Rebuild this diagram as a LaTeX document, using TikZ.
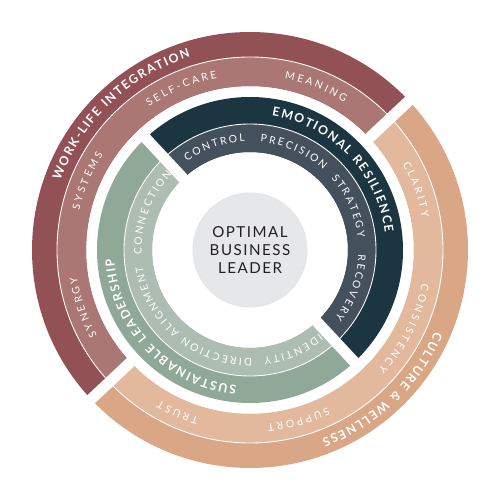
\documentclass[tikz,border=0pt]{standalone}
\usepackage{fontspec}
\setmainfont{Lato}
\usetikzlibrary{decorations.text}

\definecolor{wlDark}{HTML}{925155}
\definecolor{wlLight}{HTML}{AA7774}
\definecolor{cwDark}{HTML}{D9A686}
\definecolor{cwLight}{HTML}{E3B99E}
\definecolor{erDark}{HTML}{1B3541}
\definecolor{erLight}{HTML}{44505C}
\definecolor{slDark}{HTML}{8FA898}
\definecolor{slLight}{HTML}{ADBDB2}
\definecolor{hubGray}{HTML}{E6E7E8}
\definecolor{hubText}{HTML}{231F20}

\newcommand{\headfont}{\fontsize{7}{8}\selectfont\bfseries}
\newcommand{\itemfont}{\fontsize{5.9}{7}\selectfont}

% ring piece: colour, from angle, to angle, inner r, outer r
\newcommand{\ringpart}[5]{%
  \fill[#1] (#2:#5) arc[start angle=#2, end angle=#3, radius=#5]
    -- (#3:#4) arc[start angle=#3, end angle=#2, radius=#4] -- cycle;}

% curved label: radius, centre angle, font, letter gap, text
\newcommand{\ringtext}[5]{%
  \path[decorate, decoration={text effects along path, text={#5}, text align=center,
      text effects/.cd, text along path,
      characters={text=white, font=#3},
      character widths={inner xsep=#4, font=#3}}]
    (#2+70:#1) arc[start angle=#2+70, end angle=#2-70, radius=#1];}

\begin{document}
\begin{tikzpicture}
    \tikzset{
        gap/.style={white, line width=0.22cm},
        seam/.style={white, line width=0.5pt},
        hub/.style={circle, minimum size=2.28cm, fill=hubGray, draw=black!10, line width=0.6pt},
    }
    \useasboundingbox (-5,-5) rectangle (5,5);

    % Anillo exterior
    \ringpart{wlDark}{43.2}{223.2}{3.28}{4.36}
    \ringpart{wlLight}{43.2}{223.2}{3.28}{3.86}
    \ringpart{cwDark}{223.2}{403.2}{3.28}{4.36}
    \ringpart{cwLight}{223.2}{403.2}{3.28}{3.86}

    % Anillo interior
    \ringpart{erDark}{-47}{133}{1.96}{3.06}
    \ringpart{erLight}{-47}{133}{1.96}{2.52}
    \ringpart{slDark}{133}{313}{1.96}{3.06}
    \ringpart{slLight}{133}{313}{1.96}{2.52}

    % Lineas finas
    \draw[seam] (0,0) circle (3.86);
    \draw[seam] (0,0) circle (2.52);

    % Separaciones
    \draw[gap] (43.2:3.15) -- (43.2:4.5);
    \draw[gap] (223.2:3.15) -- (223.2:4.5);
    \draw[gap] (133:1.85) -- (133:3.15);
    \draw[gap] (313:1.85) -- (313:3.15);

    % Centro
    \node[hub] (hub) at (0,0) {};
    \node[align=center, text=hubText, font=\fontsize{8.6}{10.3}\selectfont\addfontfeature{LetterSpace=10}] (title) at (hub) {OPTIMAL\\BUSINESS\\LEADER};

    % Textos exteriores
    \ringtext{4.04}{133.5}{\headfont}{0.45pt}{WORK-LIFE INTEGRATION}
    \ringtext{4.04}{313.5}{\headfont}{0.45pt}{CULTURE {\&} WELLNESS}
    \ringtext{3.50}{68}{\itemfont}{0.75pt}{MEANING}
    \ringtext{3.50}{113}{\itemfont}{0.75pt}{SELF-CARE}
    \ringtext{3.50}{157}{\itemfont}{0.75pt}{SYSTEMS}
    \ringtext{3.50}{199}{\itemfont}{0.75pt}{SYNERGY}
    \ringtext{3.50}{20}{\itemfont}{0.75pt}{CLARITY}
    \ringtext{3.50}{-27}{\itemfont}{0.75pt}{CONSISTENCY}
    \ringtext{3.50}{-74}{\itemfont}{0.75pt}{SUPPORT}
    \ringtext{3.50}{-114}{\itemfont}{0.75pt}{TRUST}

    % Textos interiores
    \ringtext{2.72}{44}{\headfont}{0.45pt}{EMOTIONAL RESILIENCE}
    \ringtext{2.72}{224}{\headfont}{0.45pt}{SUSTAINABLE LEADERSHIP}
    \ringtext{2.17}{109}{\itemfont}{0.6pt}{CONTROL}
    \ringtext{2.17}{66}{\itemfont}{0.6pt}{PRECISION}
    \ringtext{2.17}{24}{\itemfont}{0.6pt}{STRATEGY}
    \ringtext{2.17}{-20.5}{\itemfont}{0.6pt}{RECOVERY}
    \ringtext{2.17}{159}{\itemfont}{0.6pt}{CONNECTION}
    \ringtext{2.17}{209}{\itemfont}{0.6pt}{ALIGNMENT}
    \ringtext{2.17}{252}{\itemfont}{0.6pt}{DIRECTION}
    \ringtext{2.17}{293.5}{\itemfont}{0.6pt}{IDENTITY}
\end{tikzpicture}
\end{document}
